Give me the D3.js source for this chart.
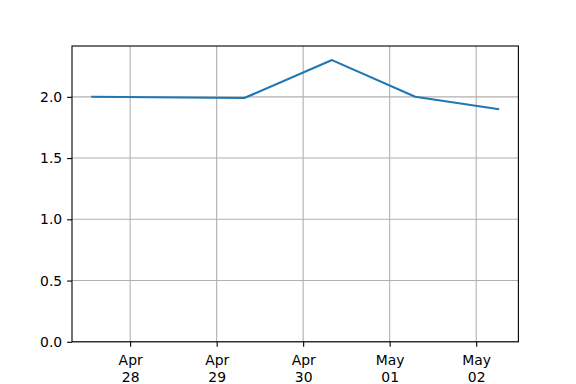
<!DOCTYPE html>
<html>
<head>
<meta charset="utf-8">
<script src="https://cdn.jsdelivr.net/npm/d3@7"></script>
<style>
  html, body { margin: 0; padding: 0; background: #fff; }
  svg { display: block; }
</style>
</head>
<body>
<div id="chart"></div>
<script>
// data
const timestamps = ["2021-04-27T13:30", "2021-04-29T07:40", "2021-04-30T08:00", "2021-05-01T07:05", "2021-05-02T06:05"];
const values = [2.0, 1.99, 2.3, 2.0, 1.9];
const tickDays = ["2021-04-28", "2021-04-29", "2021-04-30", "2021-05-01", "2021-05-02"];
const yTicks = [0, 0.5, 1.0, 1.5, 2.0];

const width = 576, height = 384;
const margin = { top: 46, right: 57.6, bottom: 42.2, left: 72 };
const innerW = width - margin.left - margin.right;
const innerH = height - margin.top - margin.bottom;
const fontFamily = "'DejaVu Sans', sans-serif";

const parseTime = d3.utcParse("%Y-%m-%dT%H:%M");
const parseDay = d3.utcParse("%Y-%m-%d");
const data = timestamps.map((t, i) => ({ date: parseTime(t), value: values[i] }));

const svg = d3.select("#chart").append("svg")
    .attr("width", width)
    .attr("height", height)
    .attr("font-family", fontFamily);

const g = svg.append("g")
    .attr("transform", `translate(${margin.left},${margin.top})`);

// matplotlib-like 5% padding on x
const [xmin, xmax] = d3.extent(data, d => d.date);
const pad = (xmax - xmin) * 0.05;
const x = d3.scaleUtc()
    .domain([new Date(+xmin - pad), new Date(+xmax + pad)])
    .range([0, innerW]);

const y = d3.scaleLinear()
    .domain([0, 2.415])
    .range([innerH, 0]);

const ticksX = tickDays.map(parseDay);

// grid
g.append("g")
    .selectAll("line")
    .data(ticksX)
    .enter()
    .append("line")
    .attr("x1", d => x(d)).attr("x2", d => x(d))
    .attr("y1", 0).attr("y2", innerH)
    .attr("stroke", "#b0b0b0")
    .attr("stroke-width", 1.1);

g.append("g")
    .selectAll("line")
    .data(yTicks)
    .enter()
    .append("line")
    .attr("x1", 0).attr("x2", innerW)
    .attr("y1", d => y(d)).attr("y2", d => y(d))
    .attr("stroke", "#b0b0b0")
    .attr("stroke-width", 1.1);

// line
const line = d3.line()
    .x(d => x(d.date))
    .y(d => y(d.value));

g.append("path")
    .datum(data)
    .attr("d", line)
    .attr("fill", "none")
    .attr("stroke", "#1f77b4")
    .attr("stroke-width", 2.1)
    .attr("stroke-linejoin", "round")
    .attr("stroke-linecap", "square");

// axes
const fmtMonth = d3.utcFormat("%b");
const fmtDay = d3.utcFormat("%d");

const xAxis = g.append("g")
    .attr("transform", `translate(0,${innerH})`)
    .call(d3.axisBottom(x).tickValues(ticksX).tickSize(4.9).tickPadding(4.9).tickFormat(""))
    .attr("font-family", fontFamily);
xAxis.select(".domain").remove();
xAxis.selectAll(".tick line").attr("stroke", "#000").attr("stroke-width", 1.1);
xAxis.selectAll(".tick").each(function (d) {
    const t = d3.select(this).append("text")
        .attr("fill", "#000")
        .attr("font-size", "13.9px")
        .attr("text-anchor", "middle")
        .attr("y", 10);
    t.append("tspan").attr("x", 0).attr("dy", "0.95em").text(fmtMonth(d));
    t.append("tspan").attr("x", 0).attr("dy", "1.2em").text(fmtDay(d));
});

const yAxis = g.append("g")
    .call(d3.axisLeft(y).tickValues(yTicks).tickSize(4.9).tickPadding(4.9).tickFormat(d3.format(".1f")))
    .attr("font-family", fontFamily);
yAxis.select(".domain").remove();
yAxis.selectAll(".tick line").attr("stroke", "#000").attr("stroke-width", 1.1);
yAxis.selectAll(".tick text").attr("fill", "#000").attr("font-size", "13.9px");

// frame
g.append("rect")
    .attr("width", innerW)
    .attr("height", innerH)
    .attr("fill", "none")
    .attr("stroke", "#000")
    .attr("stroke-width", 1.1);
</script>
</body>
</html>
